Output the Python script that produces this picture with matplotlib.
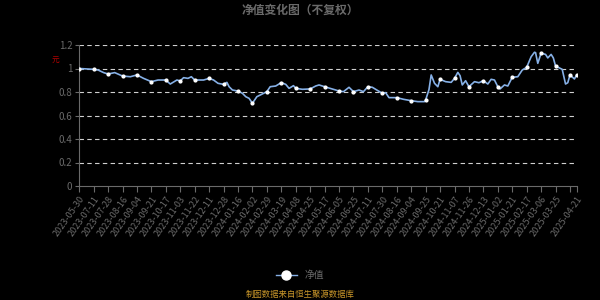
import numpy as np
import matplotlib
matplotlib.use("Agg")
import matplotlib.pyplot as plt
from matplotlib.lines import Line2D

plt.rcParams['font.family'] = ['Noto Sans CJK SC', 'DejaVu Sans']

# ==========================================================
# DATOS
# ==========================================================
# índice de la sesión (eje de categorías) y valor liquidativo
nav_idx = [0, 13, 17, 22, 26, 32, 39, 46, 52, 58, 65, 71, 78, 82, 88, 91, 94,
           98, 101, 104, 112, 117, 121, 125, 130, 133, 135, 138, 143, 147, 150,
           153, 156, 160, 163, 169, 172, 177, 182, 186, 189, 193, 195, 201, 208,
           213, 216, 221, 226, 231, 234, 238, 243, 247, 252, 256, 260, 264, 268,
           273, 276, 279, 286, 292, 299, 305, 311, 312, 315, 317, 320, 323, 325,
           330, 335, 338, 341, 343, 345, 348, 351, 356, 360, 364, 368, 371, 374,
           377, 379, 383, 386, 390, 395, 399, 403, 407, 410, 411, 413, 416, 420,
           422, 425, 427, 429, 435, 438, 440, 442, 446, 448]
nav_vals = [1.0, 0.993, 0.987, 0.965, 0.953, 0.965, 0.936, 0.93, 0.945, 0.916,
            0.888, 0.902, 0.902, 0.868, 0.902, 0.894, 0.922, 0.916, 0.93, 0.902,
            0.902, 0.916, 0.902, 0.874, 0.865, 0.882, 0.845, 0.817, 0.808, 0.789,
            0.76, 0.746, 0.704, 0.76, 0.774, 0.803, 0.845, 0.851, 0.88, 0.865,
            0.831, 0.854, 0.831, 0.823, 0.826, 0.851, 0.86, 0.845, 0.831, 0.817,
            0.808, 0.803, 0.84, 0.803, 0.817, 0.803, 0.845, 0.84, 0.817, 0.789,
            0.794, 0.752, 0.752, 0.738, 0.726, 0.718, 0.718, 0.732, 0.82, 0.945,
            0.874, 0.845, 0.908, 0.888, 0.882, 0.916, 0.967, 0.939, 0.86, 0.896,
            0.845, 0.888, 0.879, 0.896, 0.868, 0.908, 0.902, 0.845, 0.826, 0.86,
            0.851, 0.925, 0.93, 0.987, 1.01, 1.10, 1.138, 1.135, 1.044, 1.13,
            1.12, 1.09, 1.12, 1.09, 1.021, 0.993, 0.868, 0.879, 0.945, 0.911,
            0.945]

tick_labels = ["2023-05-30", "2023-07-11", "2023-07-28", "2023-08-16",
               "2023-09-04", "2023-09-21", "2023-10-17", "2023-11-03",
               "2023-11-22", "2023-12-11", "2023-12-28", "2024-01-16",
               "2024-02-02", "2024-02-29", "2024-03-19", "2024-04-08",
               "2024-04-25", "2024-05-17", "2024-06-05", "2024-06-25",
               "2024-07-11", "2024-07-30", "2024-08-16", "2024-09-04",
               "2024-09-25", "2024-10-21", "2024-11-07", "2024-11-26",
               "2024-12-13", "2025-01-02", "2025-01-21", "2025-02-17",
               "2025-03-06", "2025-03-25", "2025-04-21"]

STEP = 13          # sesiones entre etiquetas
N_LAST = 448       # última sesión

# ==========================================================
# FIGURA
# ==========================================================
BG = "black"
GRAY = "#6a6a6a"
LINE_C = "#86b0e6"

fig = plt.figure(figsize=(6, 3), dpi=100, facecolor=BG)
ax = fig.add_axes([0.132, 0.38, 0.83, 0.47], facecolor=BG)

x = np.array(nav_idx)
y = np.array(nav_vals)
mark = (x % STEP == 0) | (x == N_LAST)

ax.plot(x, y, color=LINE_C, lw=1.2, zorder=3)
ax.plot(x[mark], y[mark], ls="none", marker="o", ms=2.0,
        mfc="white", mec="white", zorder=4)

ax.set_xlim(0, N_LAST + 0.5)
ax.set_ylim(0, 1.2)

ticks = list(range(0, STEP * (len(tick_labels) - 1), STEP)) + [N_LAST]
ax.set_xticks(ticks)
ax.set_xticklabels(tick_labels, rotation=55, ha="right", va="top",
                   rotation_mode="anchor", fontsize=6.5, color=GRAY)
ax.set_xticks([STEP * (len(tick_labels) - 1)], minor=True)

yt = [0, 0.2, 0.4, 0.6, 0.8, 1.0, 1.2]
ax.set_yticks(yt)
ax.set_yticklabels(["0", "0.2", "0.4", "0.6", "0.8", "1", "1.2"],
                   fontsize=7, color=GRAY)

ax.tick_params(axis="x", which="both", colors=GRAY, length=4, width=0.8,
               labelcolor=GRAY, pad=2)
ax.tick_params(axis="y", colors=GRAY, length=3, width=0.8, labelcolor=GRAY, pad=2)

for v in yt[1:]:
    ax.axhline(v, color="#d0d0d0", lw=0.8, ls=(0, (4, 3)), zorder=1)

for s in ["top", "right"]:
    ax.spines[s].set_visible(False)
ax.spines["left"].set_color(GRAY)
ax.spines["bottom"].set_color(GRAY)

fig.text(0.5, 0.967, "净值变化图（不复权）", ha="center", va="center",
         fontsize=8.5, color=GRAY, fontweight="bold")
fig.text(0.092, 0.797, "元", ha="center", va="center", fontsize=5.5,
         color="#b00000")

handle = Line2D([], [], color=LINE_C, lw=1.0, marker="o", ms=6.5,
                mfc="white", mec="white")
leg = fig.legend([handle], ["净值"], loc="center", bbox_to_anchor=(0.5, 0.083),
                 frameon=False, fontsize=7, handlelength=2.2)
for t in leg.get_texts():
    t.set_color(GRAY)

fig.text(0.5, 0.017, "制图数据来自恒生聚源数据库", ha="center", va="center",
         fontsize=6, color="#c8962a")

fig.savefig("out.png", dpi=100, facecolor=BG)
